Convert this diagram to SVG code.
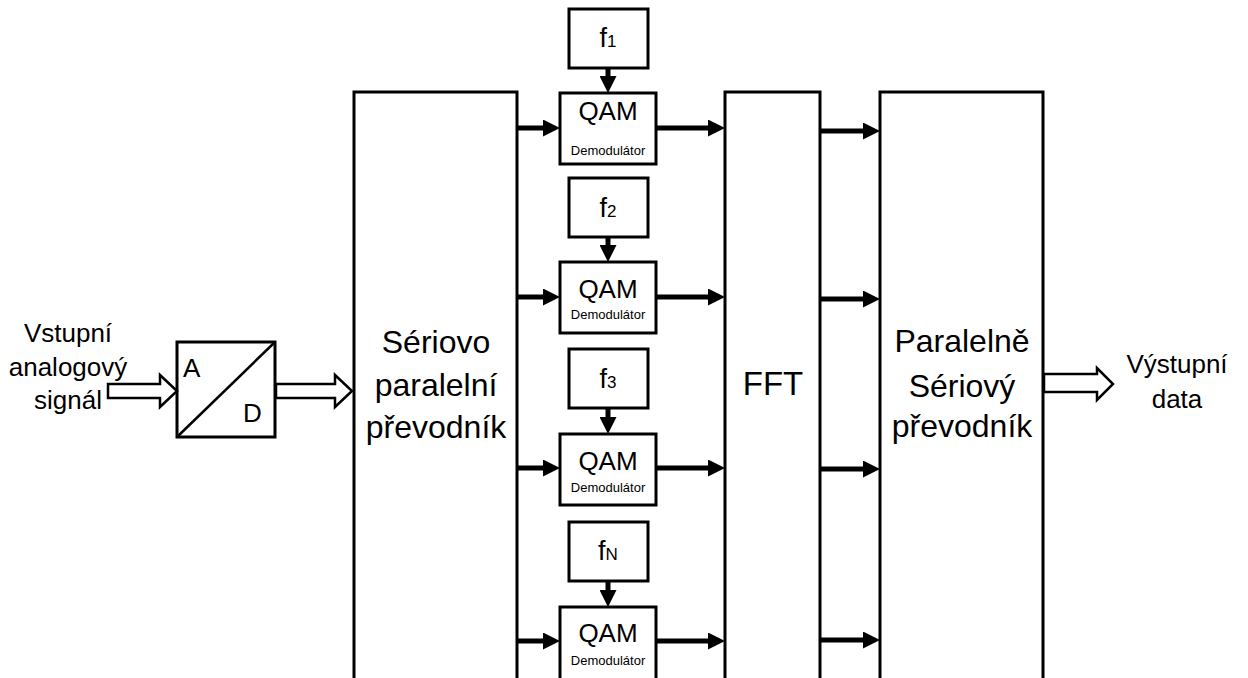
<svg xmlns="http://www.w3.org/2000/svg" width="1248" height="678" viewBox="0 0 1248 678">
  <defs>
    <style>
      .box { fill: #ffffff; stroke: #000000; stroke-width: 3; }
      .hollow { fill: #ffffff; stroke: #000000; stroke-width: 2.5; stroke-linejoin: miter; }
      .conn { stroke: #000000; stroke-width: 5; fill: none; marker-end: url(#ah); }
      text { font-family: "Liberation Sans", Arial, sans-serif; fill: #000000; }
      .lbl { font-size: 26px; text-anchor: middle; }
      .big { font-size: 32px; text-anchor: middle; }
      .qam { font-size: 26px; text-anchor: middle; }
      .dem { font-size: 13px; text-anchor: middle; }
      .f { font-size: 27px; text-anchor: middle; }
      .sub { font-size: 17px; }
    </style>
    <marker id="ah" markerUnits="userSpaceOnUse" markerWidth="17" markerHeight="17" refX="5" refY="8.5" orient="auto">
      <path d="M0,0 L17,8.5 L0,17 z" fill="#000000"/>
    </marker>
  </defs>
  <rect width="1248" height="678" fill="#ffffff"/>

  <g id="input-label">
    <text class="lbl" x="68" y="342">Vstupní</text>
    <text class="lbl" x="68" y="376">analogový</text>
    <text class="lbl" x="68" y="409">signál</text>
  </g>

  <g id="ad">
    <rect class="box" x="177" y="342" width="98" height="95"/>
    <line x1="177" y1="437" x2="275" y2="342" stroke="#000" stroke-width="2.5"/>
    <text x="183" y="377" font-size="26">A</text>
    <text x="243" y="422" font-size="26">D</text>
  </g>

  <g id="sp">
    <rect class="box" x="354" y="92" width="163" height="620"/>
    <text class="big" x="436" y="353">Sériovo</text>
    <text class="big" x="436" y="396">paralelní</text>
    <text class="big" x="436" y="438">převodník</text>
  </g>

  <g id="fft">
    <rect class="box" x="725" y="92" width="95" height="620"/>
    <text x="773" y="395" font-size="33" text-anchor="middle">FFT</text>
  </g>

  <g id="ps">
    <rect class="box" x="880" y="92" width="163" height="620"/>
    <text class="big" x="962" y="352">Paralelně</text>
    <text class="big" x="962" y="397">Sériový</text>
    <text class="big" x="962" y="437">převodník</text>
  </g>

  <g id="f1">
    <rect class="box" x="569" y="9" width="79" height="59"/>
    <text class="f" x="608" y="47">f<tspan class="sub">1</tspan></text>
  </g>
  <g id="f2">
    <rect class="box" x="569" y="178" width="79" height="59"/>
    <text class="f" x="608" y="217">f<tspan class="sub">2</tspan></text>
  </g>
  <g id="f3">
    <rect class="box" x="569" y="349" width="79" height="59"/>
    <text class="f" x="608" y="388">f<tspan class="sub">3</tspan></text>
  </g>
  <g id="fN">
    <rect class="box" x="569" y="522" width="79" height="59"/>
    <text class="f" x="608" y="560">f<tspan class="sub">N</tspan></text>
  </g>

  <g id="qam1">
    <rect class="box" x="560" y="93" width="96" height="71"/>
    <text class="qam" x="608" y="120">QAM</text>
    <text class="dem" x="608" y="155">Demodulátor</text>
  </g>
  <g id="qam2">
    <rect class="box" x="560" y="262" width="96" height="71"/>
    <text class="qam" x="608" y="298">QAM</text>
    <text class="dem" x="608" y="319">Demodulátor</text>
  </g>
  <g id="qam3">
    <rect class="box" x="560" y="434" width="96" height="71"/>
    <text class="qam" x="608" y="470">QAM</text>
    <text class="dem" x="608" y="492">Demodulátor</text>
  </g>
  <g id="qam4">
    <rect class="box" x="560" y="607" width="96" height="80"/>
    <text class="qam" x="608" y="642">QAM</text>
    <text class="dem" x="608" y="665">Demodulátor</text>
  </g>

  <g id="output-label">
    <text class="lbl" x="1177" y="373">Výstupní</text>
    <text class="lbl" x="1177" y="408">data</text>
  </g>

  <g id="connectors">
    <polygon class="hollow" points="108,384 160,384 160,375 177,391 160,407 160,398 108,398"/>
    <polygon class="hollow" points="276,384 335,384 335,375 352,391 335,407 335,398 276,398"/>
    <polygon class="hollow" points="1044,374 1097,374 1097,368 1113,384 1097,400 1097,392 1044,392"/>

    <line class="conn" x1="608" y1="68" x2="608" y2="81"/>
    <line class="conn" x1="608" y1="237" x2="608" y2="250"/>
    <line class="conn" x1="608" y1="408" x2="608" y2="422"/>
    <line class="conn" x1="608" y1="581" x2="608" y2="595"/>

    <line class="conn" x1="517" y1="128" x2="548" y2="128"/>
    <line class="conn" x1="517" y1="297" x2="548" y2="297"/>
    <line class="conn" x1="517" y1="468" x2="548" y2="468"/>
    <line class="conn" x1="517" y1="641" x2="548" y2="641"/>

    <line class="conn" x1="656" y1="128" x2="713" y2="128"/>
    <line class="conn" x1="656" y1="297" x2="713" y2="297"/>
    <line class="conn" x1="656" y1="468" x2="713" y2="468"/>
    <line class="conn" x1="656" y1="641" x2="713" y2="641"/>

    <line class="conn" x1="820" y1="131" x2="868" y2="131"/>
    <line class="conn" x1="820" y1="299" x2="868" y2="299"/>
    <line class="conn" x1="820" y1="469" x2="868" y2="469"/>
    <line class="conn" x1="820" y1="640" x2="868" y2="640"/>
  </g>
</svg>
